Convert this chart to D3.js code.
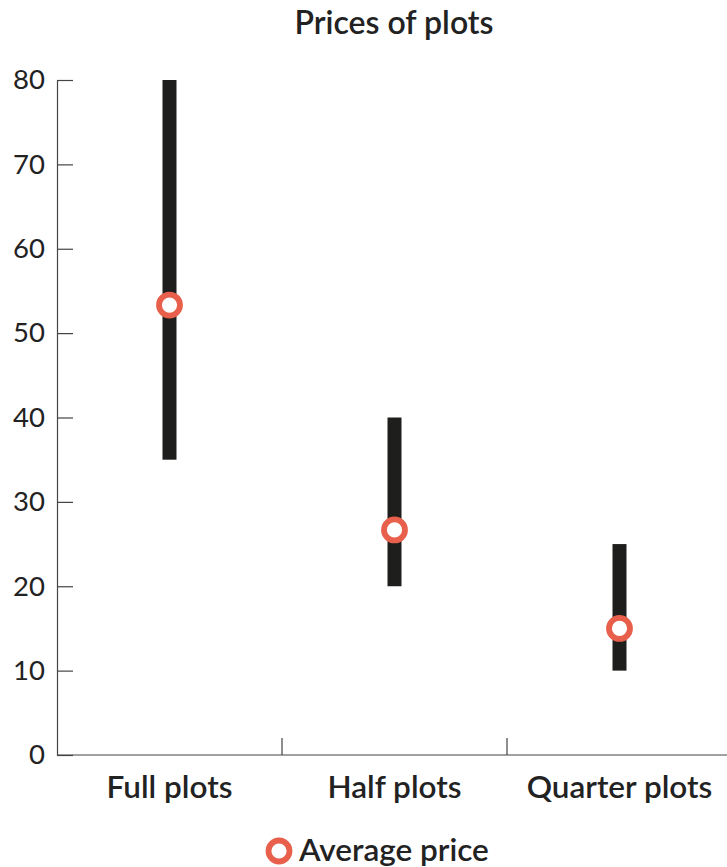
<!DOCTYPE html>
<html>
<head>
<meta charset="utf-8">
<script src="https://cdn.jsdelivr.net/npm/d3@7"></script>
<style>
  html, body { margin: 0; padding: 0; background: #fff; }
  svg { display: block; font-family: Lato, "Noto Sans", sans-serif; }
</style>
</head>
<body>
<svg id="chart" width="727" height="867"></svg>
<script>
// Price ranges per plot type
const categories = ["Full plots", "Half plots", "Quarter plots"];
const minPrice = [35, 20, 10];
const maxPrice = [80, 40, 25];
const avgPrice = [53.33, 26.67, 15];
const yTicks = [0, 10, 20, 30, 40, 50, 60, 70, 80];

const rows = categories.map((c, i) => ({
  cat: c, lo: minPrice[i], hi: maxPrice[i], avg: avgPrice[i]
}));

const svg = d3.select("#chart");
const plotLeft = 57, plotRight = 732, plotTop = 80, plotBottom = 755;

const x = d3.scaleBand().domain(categories).range([plotLeft, plotRight]).padding(0);
const y = d3.scaleLinear().domain([0, 80]).range([plotBottom, plotTop]);

const ink = "#222";
const barColor = "#1e1e1c";
const dotColor = "#e8604c";

// Title
svg.append("text")
  .attr("x", 394).attr("y", 34)
  .attr("text-anchor", "middle")
  .attr("font-size", 32).attr("font-weight", 600)
  .attr("fill", ink)
  .text("Prices of plots");

// Y axis with inward ticks
const yAxis = svg.append("g")
  .attr("transform", `translate(${plotLeft},0)`)
  .call(d3.axisLeft(y).tickValues(yTicks).tickSize(-16).tickPadding(12).tickSizeOuter(0));
yAxis.select(".domain").attr("stroke", "#444").attr("stroke-width", 1.2);
yAxis.selectAll(".tick line").attr("stroke", "#444").attr("stroke-width", 1.2);
yAxis.selectAll(".tick text")
  .attr("font-size", 27.5).attr("fill", ink)
  .attr("font-family", "Lato, sans-serif");

// X axis: separators between categories, pointing up
const xAxis = svg.append("g").attr("transform", `translate(0,${plotBottom})`);
xAxis.append("line")
  .attr("x1", plotLeft).attr("x2", plotRight)
  .attr("y1", 0).attr("y2", 0)
  .attr("stroke", "#444").attr("stroke-width", 1.2);
xAxis.selectAll("line.sep")
  .data(categories.slice(1))
  .join("line")
  .attr("class", "sep")
  .attr("x1", d => x(d)).attr("x2", d => x(d))
  .attr("y1", 0).attr("y2", -17)
  .attr("stroke", "#444").attr("stroke-width", 1.2);
xAxis.selectAll("text.cat")
  .data(categories)
  .join("text")
  .attr("class", "cat")
  .attr("x", d => x(d) + x.bandwidth() / 2)
  .attr("y", 43)
  .attr("text-anchor", "middle")
  .attr("font-size", 31.5).attr("font-weight", 600)
  .attr("fill", ink)
  .text(d => d);

// Range bars
const barW = 14;
svg.append("g").selectAll("rect")
  .data(rows)
  .join("rect")
  .attr("x", d => x(d.cat) + x.bandwidth() / 2 - barW / 2)
  .attr("width", barW)
  .attr("y", d => y(d.hi))
  .attr("height", d => y(d.lo) - y(d.hi))
  .attr("fill", barColor);

// Average markers
svg.append("g").selectAll("circle")
  .data(rows)
  .join("circle")
  .attr("cx", d => x(d.cat) + x.bandwidth() / 2)
  .attr("cy", d => y(d.avg))
  .attr("r", 10.5)
  .attr("fill", "#fff")
  .attr("stroke", dotColor)
  .attr("stroke-width", 5.8);

// Legend
const legend = svg.append("g").attr("transform", "translate(279,851)");
legend.append("circle")
  .attr("r", 10.5).attr("fill", "#fff")
  .attr("stroke", dotColor).attr("stroke-width", 5.8);
legend.append("text")
  .attr("x", 20).attr("y", 0).attr("dy", "0.33em")
  .attr("font-size", 31.5).attr("font-weight", 600)
  .attr("fill", ink)
  .text("Average price");
</script>
</body>
</html>
